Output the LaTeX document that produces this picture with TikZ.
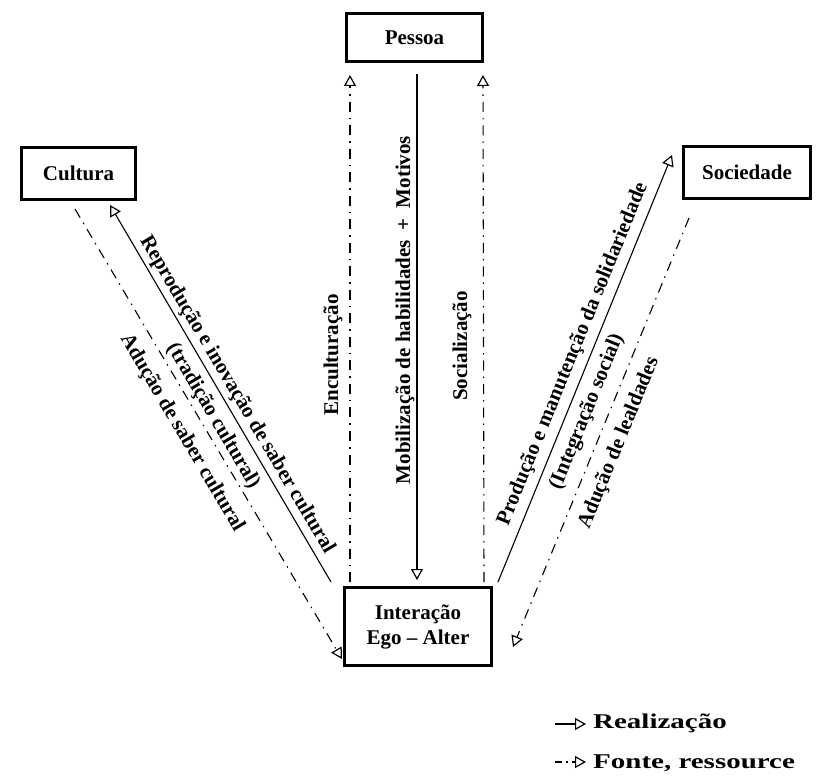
\documentclass[tikz,border=0pt]{standalone}
\usepackage{fontspec}
\usepackage{graphicx}
\setmainfont{Liberation Serif}
\usetikzlibrary{arrows.meta,calc}
\begin{document}
\begin{tikzpicture}[x=1pt,y=-1pt,
  every node/.style={font=\fontsize{21}{25}\selectfont\bfseries},
  box/.style={draw,line width=3.5pt,inner sep=0pt,align=center},
  lbl/.style={inner sep=0pt},
  real/.style={line width=1.1pt,-{Triangle[open,length=11pt,width=12pt,line width=1.2pt]}},
  src/.style={real,dash pattern=on 10pt off 6pt on 1.5pt off 6pt},
  legsrc/.style={real,dash pattern=on 7pt off 4pt on 1.5pt off 4pt},
]
\useasboundingbox (0,0) rectangle (823,778);
% boxes
\node[box,minimum width=136pt,minimum height=48pt] (pessoa) at (414.5,37.5) {Pessoa};
\node[box,minimum width=114pt,minimum height=52pt] (cultura) at (78.5,173.5) {Cultura};
\node[box,minimum width=127pt,minimum height=52pt] (sociedade) at (747,172.5) {Sociedade};
\node[box,minimum width=147pt,minimum height=78pt] (inter) at (418,626.5) {Interação\\Ego – Alter};
% vertical connectors
\draw[src] ($(inter.center)+(-68,-44.5)$) -- ($(pessoa.center)+(-64.5,37.5)$);
\draw[src] ($(inter.center)+(66,-44.5)$) -- ($(pessoa.center)+(68.5,37.5)$);
\draw[real] ($(pessoa.center)+(2.5,36.5)$) -- ($(inter.center)+(-1,-46.5)$);
% left diagonals
\draw[real] ($(inter.center)+(-87,-44.5)$) -- ($(cultura.center)+(31.5,31.5)$);
\draw[src] ($(cultura.center)+(-3.5,35.5)$) -- ($(inter.center)+(-76,32.5)$);
% right diagonals
\draw[real] ($(inter.center)+(80,-44.5)$) -- ($(sociedade.center)+(-75,-17.5)$);
\draw[src] ($(sociedade.center)+(-58,45.5)$) -- ($(inter.center)+(95,20.5)$);
% vertical labels
\node[lbl,rotate=90] (encult) at (333,355) {Enculturação};
\node[lbl,rotate=90] (mobil) at (405,310) {Mobilização de habilidades\hspace{10pt}+\hspace{10pt}Motivos};
\node[lbl,rotate=90] (social) at (462,346) {Socialização};
% left diagonal labels
\node[lbl,rotate=-59.5] (repro) at (237,395) {Reprodução e inovação de saber cultural};
\node[lbl,rotate=-59.5] (tradi) at (213,416) {(tradição cultural)};
\node[lbl,rotate=-59.5] (adsab) at (182,433) {Adução de saber cultural};
% right diagonal labels
\node[lbl,rotate=67.8] (produ) at (573,354) {Produção e manutenção da solidariedade};
\node[lbl,rotate=67.8] (integ) at (587,412) {(Integração social)};
\node[lbl,rotate=67.8] (adleal) at (619,443) {Adução de lealdades};
% legend
\node[lbl,anchor=base west] (legR) at (593,728) {\scalebox{1.38}[1]{Realização}};
\draw[real] ($(legR.base west)+(-38,-4)$) -- ($(legR.base west)+(-7,-4)$);
\node[lbl,anchor=base west] (legF) at (593,768) {\scalebox{1.38}[1]{Fonte, ressource}};
\draw[legsrc] ($(legF.base west)+(-38,-6)$) -- ($(legF.base west)+(-7,-6)$);
\end{tikzpicture}
\end{document}
